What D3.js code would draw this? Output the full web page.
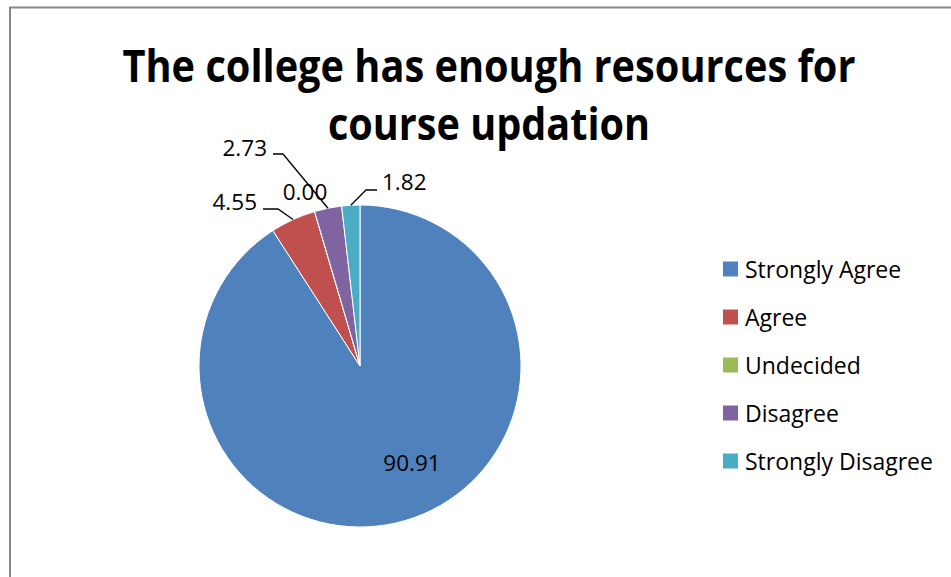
<!DOCTYPE html>
<html>
<head>
<meta charset="utf-8">
<script src="https://cdn.jsdelivr.net/npm/d3@7"></script>
<style>
  html, body { margin: 0; padding: 0; background: #fff; }
  svg { display: block; }
  text { font-family: "Open Sans", "DejaVu Sans", sans-serif; }
</style>
</head>
<body>
<svg id="chart" width="951" height="577"></svg>
<script>
const titleLines = ["The college has enough resources for", "course updation"];
const categories = ["Strongly Agree", "Agree", "Undecided", "Disagree", "Strongly Disagree"];
const values = [90.91, 4.55, 0.00, 2.73, 1.82];
const colors = ["#4F81BD", "#C0504D", "#9BBB59", "#8064A2", "#4BACC6"];
const valueLabels = ["90.91", "4.55", "0.00", "2.73", "1.82"];

// label layout (offsets from pie centre): text anchor point, and leader line end/elbow
const labelLayout = [
  { text: [52, 105], anchor: "middle", line: null },
  { text: [-103, -156], anchor: "end", line: [[-97, -157], [-82, -157]] },
  { text: [-55, -166], anchor: "middle", line: null },
  { text: [-93, -210], anchor: "end", line: [[-87, -212], [-77, -212]] },
  { text: [22, -176], anchor: "start", line: [[17, -176], [6, -176]] }
];

const svg = d3.select("#chart");
const W = 951, H = 577;

// outer frame
svg.append("rect")
  .attr("x", 10).attr("y", 7.5)
  .attr("width", W + 20).attr("height", H + 20)
  .attr("fill", "#fff")
  .attr("stroke", "#868686").attr("stroke-width", 2);

// title
const title = svg.append("g");
title.selectAll("text").data(titleLines).join("text")
  .attr("x", 489)
  .attr("y", (d, i) => 82 + i * 58)
  .attr("text-anchor", "middle")
  .attr("font-size", 44)
  .attr("font-weight", "bold")
  .attr("fill", "#000")
  .attr("textLength", (d, i) => i === 0 ? 733 : 322)
  .attr("lengthAdjust", "spacingAndGlyphs")
  .text(d => d);

// pie
const cx = 360, cy = 366, R = 161;
const data = categories.map((c, i) => ({ cat: c, value: values[i], i }));
const pie = d3.pie().sort(null).value(d => d.value);
const arcs = pie(data);
const arc = d3.arc().innerRadius(0).outerRadius(R);

const g = svg.append("g").attr("transform", `translate(${cx},${cy})`);
g.selectAll("path").data(arcs).join("path")
  .attr("d", arc)
  .attr("fill", d => colors[d.data.i])
  .attr("stroke", "#fff")
  .attr("stroke-width", 1);

// leader lines
const edgePoint = d => {
  const a = (d.startAngle + d.endAngle) / 2;
  return [R * Math.sin(a), -R * Math.cos(a)];
};
g.selectAll("polyline").data(arcs.filter(d => labelLayout[d.data.i].line)).join("polyline")
  .attr("points", d => {
    const L = labelLayout[d.data.i].line;
    return [L[0], L[1], edgePoint(d)].map(p => p.join(",")).join(" ");
  })
  .attr("fill", "none")
  .attr("stroke", "#000")
  .attr("stroke-width", 1.3);

// value labels
g.selectAll("text.val").data(arcs).join("text")
  .attr("class", "val")
  .attr("x", d => labelLayout[d.data.i].text[0])
  .attr("y", d => labelLayout[d.data.i].text[1])
  .attr("text-anchor", d => labelLayout[d.data.i].anchor)
  .attr("font-size", 22.5)
  .attr("fill", "#000")
  .text(d => valueLabels[d.data.i]);

// legend
const legend = svg.append("g").attr("transform", "translate(723,269)");
const rows = legend.selectAll("g").data(categories).join("g")
  .attr("transform", (d, i) => `translate(0,${i * 48})`);
rows.append("rect")
  .attr("x", 0).attr("y", -7.5)
  .attr("width", 15).attr("height", 15)
  .attr("fill", (d, i) => colors[i]);
rows.append("text")
  .attr("x", 22).attr("y", 8.5)
  .attr("font-size", 23)
  .attr("fill", "#000")
  .text(d => d);
</script>
</body>
</html>
